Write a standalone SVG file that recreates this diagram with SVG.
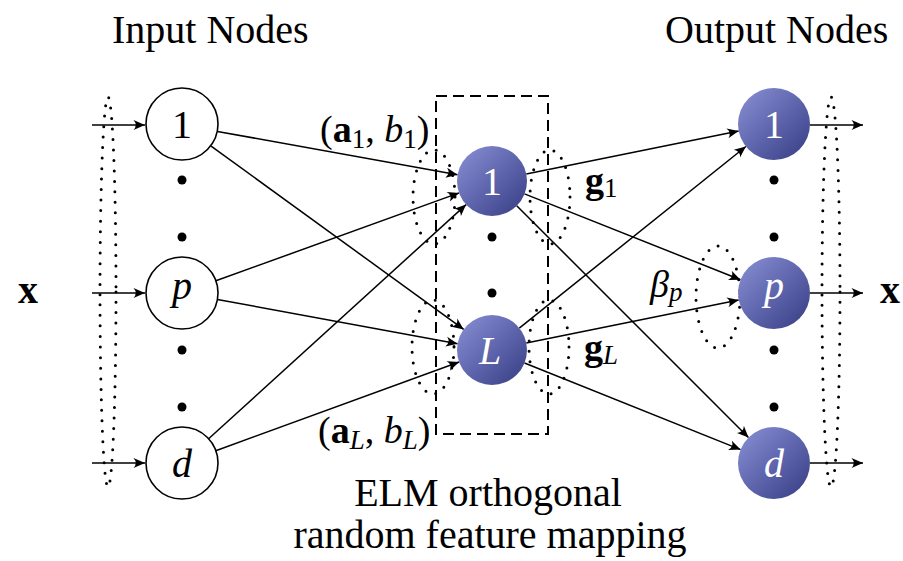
<svg xmlns="http://www.w3.org/2000/svg" width="903" height="561" viewBox="0 0 903 561">
<style>
  text { font-family: "Liberation Serif", "Times New Roman", serif; fill: #000; }
  .title { font-size: 40px; }
  .lbl { font-size: 38px; }
  .nlab { font-size: 40px; text-anchor: middle; }
  .wlab { font-size: 40px; text-anchor: middle; fill: #fff; }
  .in { fill: #fff; stroke: #000; stroke-width: 1.6; }
  .out { fill: url(#ball); stroke: none; }
  .edge { stroke: #000; stroke-width: 1.5; fill: none; marker-end: url(#arr); }
  .dotl { fill: none; stroke: #000; stroke-width: 3; stroke-linecap: round; stroke-dasharray: 0 10.5; }
  .bul { fill: #000; }
</style>
<defs>
  <linearGradient id="ball" x1="0" y1="0" x2="1" y2="1">
    <stop offset="0" stop-color="#8b91d6"/>
    <stop offset="0.5" stop-color="#5f66ad"/>
    <stop offset="1" stop-color="#363c82"/>
  </linearGradient>
  <marker id="arr" markerUnits="userSpaceOnUse" viewBox="-12 -5.5 13 11" refX="0" refY="0" markerWidth="13" markerHeight="11" orient="auto">
    <path d="M0,0 L-11.5,-5 Q-7,0 -11.5,5 Z" fill="#000"/>
  </marker>
</defs>

<!-- titles -->
<text class="title" x="112" y="43">Input Nodes</text>
<text class="title" x="665" y="43">Output Nodes</text>
<text class="title" x="488" y="506" text-anchor="middle">ELM orthogonal</text>
<text class="title" x="490" y="548" text-anchor="middle">random feature mapping</text>

<!-- dotted groupings -->
<g id="groupings">
  <ellipse class="dotl" cx="108" cy="292" rx="8" ry="195"/>
  <ellipse class="dotl" cx="831" cy="292" rx="9" ry="195"/>
  <ellipse class="dotl" cx="434" cy="197" rx="21" ry="47"/>
  <ellipse class="dotl" cx="550" cy="197" rx="20" ry="47"/>
  <ellipse class="dotl" cx="433" cy="347" rx="21" ry="47"/>
  <ellipse class="dotl" cx="549" cy="347" rx="20" ry="47"/>
  <ellipse class="dotl" cx="718" cy="297" rx="22" ry="51"/>
</g>

<!-- dashed box -->
<rect id="mapping-box" x="436" y="96" width="112" height="338" fill="none" stroke="#000" stroke-width="2" stroke-dasharray="11 6"/>

<!-- connectors -->
<g id="connectors">
  <line class="edge" x1="92" y1="125" x2="145" y2="125"/>
  <line class="edge" x1="92" y1="293" x2="145" y2="293"/>
  <line class="edge" x1="92" y1="463" x2="145" y2="463"/>

  <line class="edge" x1="217.4" y1="131.4" x2="457.6" y2="174.8"/>
  <line class="edge" x1="211.1" y1="146.1" x2="463.7" y2="329.4"/>
  <line class="edge" x1="215.9" y1="280.8" x2="459.1" y2="192.9"/>
  <line class="edge" x1="217.4" y1="299.5" x2="457.6" y2="343.7"/>
  <line class="edge" x1="208.6" y1="438.8" x2="466.1" y2="204.6"/>
  <line class="edge" x1="215.8" y1="450.7" x2="459.1" y2="362.0"/>

  <line class="edge" x1="526.3" y1="174.1" x2="738.7" y2="131.1"/>
  <line class="edge" x1="524.5" y1="193.9" x2="740.5" y2="279.7"/>
  <line class="edge" x1="516.7" y1="205.7" x2="748.5" y2="437.5"/>
  <line class="edge" x1="519.3" y1="328.1" x2="745.9" y2="146.5"/>
  <line class="edge" x1="526.3" y1="343.1" x2="738.7" y2="300.1"/>
  <line class="edge" x1="524.5" y1="363.0" x2="740.6" y2="449.6"/>

  <line class="edge" x1="810" y1="125" x2="863" y2="125"/>
  <line class="edge" x1="810" y1="293" x2="863" y2="293"/>
  <line class="edge" x1="810" y1="463" x2="863" y2="463"/>
</g>

<!-- input nodes -->
<g id="in-1"><circle class="in" cx="182" cy="124" r="36"/><text class="nlab" x="182" y="138">1</text></g>
<g id="in-p"><circle class="in" cx="182" cy="293" r="36"/><text class="nlab" x="182" y="299" font-style="italic">p</text></g>
<g id="in-d"><circle class="in" cx="182" cy="463" r="36"/><text class="nlab" x="182" y="477" font-style="italic">d</text></g>
<g id="in-dots">
  <circle class="bul" cx="182" cy="180" r="4.5"/><circle class="bul" cx="182" cy="237" r="4.5"/>
  <circle class="bul" cx="182" cy="350" r="4.5"/><circle class="bul" cx="182" cy="407" r="4.5"/>
</g>

<!-- hidden nodes -->
<g id="hid-1"><circle class="out" cx="492" cy="181" r="35"/><text class="wlab" x="492" y="195">1</text></g>
<g id="hid-L"><circle class="out" cx="492" cy="350" r="35"/><text class="wlab" x="490" y="364" font-style="italic">L</text></g>
<g id="hid-dots">
  <circle class="bul" cx="492" cy="237" r="4.5"/><circle class="bul" cx="492" cy="293" r="4.5"/>
</g>

<!-- output nodes -->
<g id="out-1"><circle class="out" cx="774" cy="124" r="36"/><text class="wlab" x="774" y="138">1</text></g>
<g id="out-p"><circle class="out" cx="774" cy="293" r="36"/><text class="wlab" x="774" y="299" font-style="italic">p</text></g>
<g id="out-d"><circle class="out" cx="774" cy="463" r="36"/><text class="wlab" x="774" y="477" font-style="italic">d</text></g>
<g id="out-dots">
  <circle class="bul" cx="774" cy="180" r="4.5"/><circle class="bul" cx="774" cy="237" r="4.5"/>
  <circle class="bul" cx="774" cy="350" r="4.5"/><circle class="bul" cx="774" cy="407" r="4.5"/>
</g>

<!-- labels -->
<text class="lbl" x="320" y="142">(<tspan font-weight="bold">a</tspan><tspan font-size="27" dy="6">1</tspan><tspan dy="-6">, </tspan><tspan font-style="italic">b</tspan><tspan font-size="27" dy="6">1</tspan><tspan dy="-6">)</tspan></text>
<text class="lbl" x="318" y="443">(<tspan font-weight="bold">a</tspan><tspan font-size="27" font-style="italic" dy="6">L</tspan><tspan dy="-6">, </tspan><tspan font-style="italic">b</tspan><tspan font-size="27" font-style="italic" dy="6">L</tspan><tspan dy="-6">)</tspan></text>
<text class="lbl" x="585" y="193"><tspan font-weight="bold">g</tspan><tspan font-size="27" dy="4">1</tspan></text>
<text class="lbl" x="584" y="360"><tspan font-weight="bold">g</tspan><tspan font-size="27" font-style="italic" dy="4">L</tspan></text>
<text class="lbl" x="650" y="297"><tspan font-style="italic">β</tspan><tspan font-size="27" font-style="italic" dy="4">p</tspan></text>
<text class="title" x="18" y="303" font-weight="bold">x</text>
<text class="title" x="880" y="303" font-weight="bold">x</text>
</svg>
